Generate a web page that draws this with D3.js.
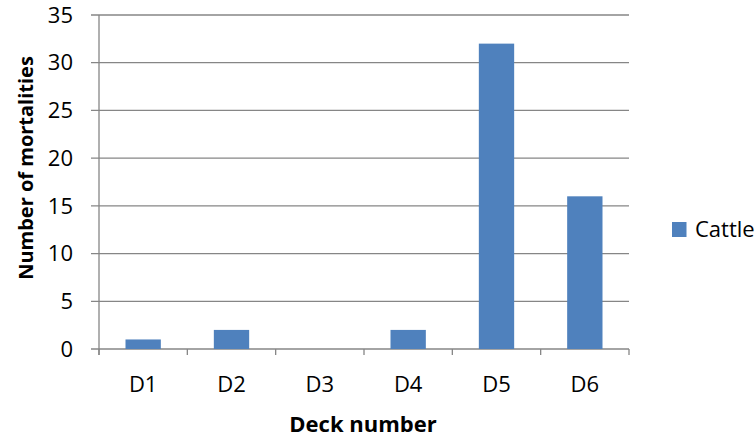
<!DOCTYPE html>
<html>
<head>
<meta charset="utf-8">
<script src="https://cdn.jsdelivr.net/npm/d3@7"></script>
<style>
  body { margin: 0; background: #fff; }
  text { font-family: "Open Sans", sans-serif; fill: #000; }
</style>
</head>
<body>
<div id="chart"></div>
<script>
var decks = ["D1", "D2", "D3", "D4", "D5", "D6"];
var cattle = [1, 2, 0, 2, 32, 16];
var yTicks = [0, 5, 10, 15, 20, 25, 30, 35];

(function () {
    var w = 756, h = 436;
    var margin = {top: 15, right: 127, bottom: 87, left: 99};
    var iw = w - margin.left - margin.right,
        ih = h - margin.top - margin.bottom,
        barColor = "#4F81BD",
        gridColor = "#868686";

    var svg = d3.select("#chart").append("svg")
        .attr("width", w).attr("height", h);
    var g = svg.append("g")
        .attr("transform", "translate(" + margin.left + "," + margin.top + ")");

    var x = d3.scaleBand().domain(decks).range([0, iw]).paddingInner(0.6).paddingOuter(0.3);
    var xs = d3.scaleBand().domain(decks).range([0, iw]);
    var y = d3.scaleLinear().domain([0, 35]).range([ih, 0]);

    // gridlines
    g.selectAll(".grid").data(yTicks).enter().append("line")
        .attr("x1", -8).attr("x2", iw)
        .attr("y1", function (d) { return y(d); })
        .attr("y2", function (d) { return y(d); })
        .attr("stroke", gridColor).attr("stroke-width", 1.3);

    // y axis line
    g.append("line").attr("x1", 0).attr("x2", 0).attr("y1", 0).attr("y2", ih + 6)
        .attr("stroke", gridColor).attr("stroke-width", 1.3);

    // x ticks
    var xt = decks.map(function (d) { return xs(d); }).concat([iw]);
    g.selectAll(".xt").data(xt).enter().append("line")
        .attr("x1", function (d) { return d; }).attr("x2", function (d) { return d; })
        .attr("y1", ih).attr("y2", ih + 6)
        .attr("stroke", gridColor).attr("stroke-width", 1.3);

    // bars
    g.selectAll(".bar").data(cattle).enter().append("rect")
        .attr("x", function (d, i) { return x(decks[i]); })
        .attr("width", x.bandwidth())
        .attr("y", function (d) { return y(d); })
        .attr("height", function (d) { return ih - y(d); })
        .attr("fill", barColor);

    // y labels
    g.selectAll(".yl").data(yTicks).enter().append("text")
        .text(function (d) { return d; })
        .attr("x", -26).attr("y", function (d) { return y(d); })
        .attr("dy", "0.35em")
        .style("text-anchor", "end").style("font-size", "22px");

    // x labels
    g.selectAll(".xl").data(decks).enter().append("text")
        .text(function (d) { return d; })
        .attr("x", function (d) { return xs(d) + xs.bandwidth() / 2; })
        .attr("y", 391.5 - margin.top)
        .style("text-anchor", "middle").style("font-size", "22px");

    // axis titles
    svg.append("text").text("Deck number")
        .attr("x", 363).attr("y", 431.5)
        .style("text-anchor", "middle").style("font-size", "22px").style("font-weight", "bold");
    svg.append("text").text("Number of mortalities")
        .attr("transform", "translate(33,168) rotate(-90)")
        .style("text-anchor", "middle").style("font-size", "20px").style("font-weight", "bold");

    // legend
    svg.append("rect").attr("x", 672).attr("y", 222).attr("width", 14.5).attr("height", 15)
        .attr("fill", barColor);
    svg.append("text").text("Cattle").attr("x", 695).attr("y", 237)
        .style("font-size", "22px");
})();
</script>
</body>
</html>
